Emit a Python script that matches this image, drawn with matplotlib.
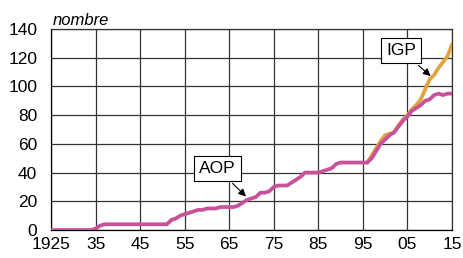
import matplotlib.pyplot as plt
import numpy as np

# yearly counts
years = np.arange(1925, 2016)
aop = [0, 0, 0, 0, 0, 0, 0, 0, 0, 0,          # 1925-1934
       1, 3, 4, 4, 4, 4, 4, 4, 4, 4,          # 1935-1944
       4, 4, 4, 4, 4, 4, 4, 7, 8, 10,         # 1945-1954
       11, 12, 13, 14, 14, 15, 15, 15, 16, 16, # 1955-1964
       16, 16, 17, 19, 21, 22, 23, 26, 26, 27, # 1965-1974
       30, 31, 31, 31, 33, 35, 37, 40, 40, 40, # 1975-1984
       40, 41, 42, 43, 46, 47, 47, 47, 47, 47, # 1985-1994
       47, 47, 50, 55, 60, 63, 66, 68, 72, 76, # 1995-2004
       79, 83, 85, 87, 90, 91, 94, 95, 94, 95, # 2005-2014
       95]                                    # 2015
igp_years = np.arange(1996, 2016)
igp = [47, 52, 57, 62, 66, 67, 68, 73, 77, 80,
       84, 87, 91, 98, 105, 108, 113, 117, 121, 129]

x_ticks = [1925, 1935, 1945, 1955, 1965, 1975, 1985, 1995, 2005, 2015]
x_labels = ['1925', '35', '45', '55', '65', '75', '85', '95', '05', '15']
y_ticks = [0, 20, 40, 60, 80, 100, 120, 140]

plt.rcParams['font.family'] = ['Liberation Sans', 'DejaVu Sans']

fig = plt.figure(figsize=(4.64, 2.58), dpi=100)
ax = fig.add_axes([0.11, 0.1085, 0.864, 0.779])

ax.plot(igp_years, igp, color='#E2A23E', lw=2.7, zorder=3)
ax.plot(years, aop, color='#C8519C', lw=2.7, zorder=4)

ax.set_xlim(1925, 2015)
ax.set_ylim(0, 140)
ax.set_xticks(x_ticks)
ax.set_xticklabels(x_labels)
ax.set_yticks(y_ticks)
ax.tick_params(length=0, labelsize=12.5, pad=5)
ax.tick_params(axis='y', pad=10)
ax.grid(True, color='#333333', lw=0.9)
for s in ax.spines.values():
    s.set_color('#333333')
    s.set_linewidth(0.9)
ax.spines['left'].set_color('black')
ax.spines['bottom'].set_color('black')

fig.text(0.113, 0.905, 'nombre', fontsize=12, style='italic')

box = dict(boxstyle='square,pad=0.3', fc='white', ec='black', lw=0.8)
arrow = dict(arrowstyle='-|>', color='black', lw=0.8, mutation_scale=11)
ax.annotate('AOP', xy=(1969.2, 22), xytext=(1962.3, 43), fontsize=12.5,
            ha='center', va='center', bbox=box, arrowprops=arrow, zorder=5)
ax.annotate('IGP', xy=(2010.7, 106), xytext=(2003.6, 125), fontsize=12.5,
            ha='center', va='center', bbox=box, arrowprops=arrow, zorder=5)

fig.savefig('out.png', dpi=100)
